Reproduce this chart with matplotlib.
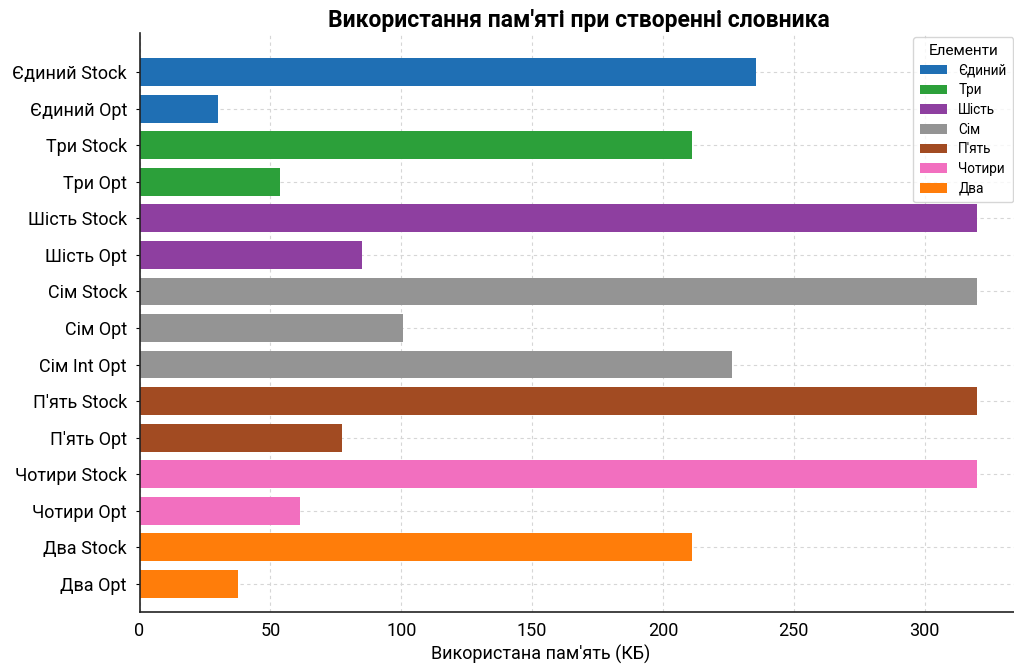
import matplotlib
matplotlib.use("Agg")
import matplotlib.pyplot as plt
from matplotlib.patches import Patch

plt.rcParams['font.family'] = ['Roboto', 'DejaVu Sans']

# Labels and memory use (KB) for each dictionary build
labels = [
    "Єдиний Stock", "Єдиний Opt",
    "Три Stock", "Три Opt",
    "Шість Stock", "Шість Opt",
    "Сім Stock", "Сім Opt", "Сім Int Opt",
    "П'ять Stock", "П'ять Opt",
    "Чотири Stock", "Чотири Opt",
    "Два Stock", "Два Opt",
]
memory_kb = [235.5, 30.1, 211.0, 53.8, 320.0, 85.1, 320.0, 100.5, 226.5,
             320.0, 77.4, 320.0, 61.4, 211.0, 37.6]
groups = ["Єдиний", "Єдиний", "Три", "Три", "Шість", "Шість",
          "Сім", "Сім", "Сім", "П'ять", "П'ять", "Чотири", "Чотири",
          "Два", "Два"]

legend_groups = ["Єдиний", "Три", "Шість", "Сім", "П'ять", "Чотири", "Два"]
group_colors = {
    "Єдиний": "#1f6fb4",
    "Три": "#2ca03a",
    "Шість": "#8e3fa0",
    "Сім": "#949494",
    "П'ять": "#a24b22",
    "Чотири": "#f26fbf",
    "Два": "#ff7d0a",
}

fig = plt.figure(figsize=(10.14, 6.68), dpi=100)
ax = fig.add_axes([139.5 / 1014, 1 - 612 / 668, 879.3 / 1014, (612 - 33) / 668])

positions = list(range(len(labels)))
ax.barh(positions, memory_kb, height=0.76,
        color=[group_colors[g] for g in groups], zorder=2)

ax.set_yticks(positions)
ax.set_yticklabels(labels, fontsize=13)
ax.set_ylim(len(labels) - 1 + 0.77, -1.07)
ax.set_xlim(0, 336)
ax.set_xticks([0, 50, 100, 150, 200, 250, 300])
ax.tick_params(axis='x', labelsize=13, length=0, pad=7)
ax.tick_params(axis='y', length=3, pad=6)

ax.grid(True, linestyle=(0, (3, 3)), color='#d6d6d6', linewidth=0.8, zorder=0)
ax.set_axisbelow(True)
for side in ("top", "right"):
    ax.spines[side].set_visible(False)
for side in ("left", "bottom"):
    ax.spines[side].set_linewidth(1.2)
    ax.spines[side].set_color("#222222")

ax.set_xlabel("Використана пам'ять (КБ)", fontsize=13)
ax.xaxis.set_label_coords(0.4566, -0.057)
ax.set_title("Використання пам'яті при створенні словника",
             fontsize=16.5, fontweight='bold', pad=4)

handles = [Patch(facecolor=group_colors[g], label=g) for g in legend_groups]
leg = fig.legend(handles=handles, title="Елементи", loc='upper right',
                 bbox_to_anchor=(1.006, 0.955), fontsize=9.8, title_fontsize=11,
                 frameon=True, handlelength=2.0, handleheight=0.7,
                 labelspacing=0.42, borderpad=0.5)
leg.get_frame().set_edgecolor("#cccccc")

fig.savefig("out.png", dpi=100)
